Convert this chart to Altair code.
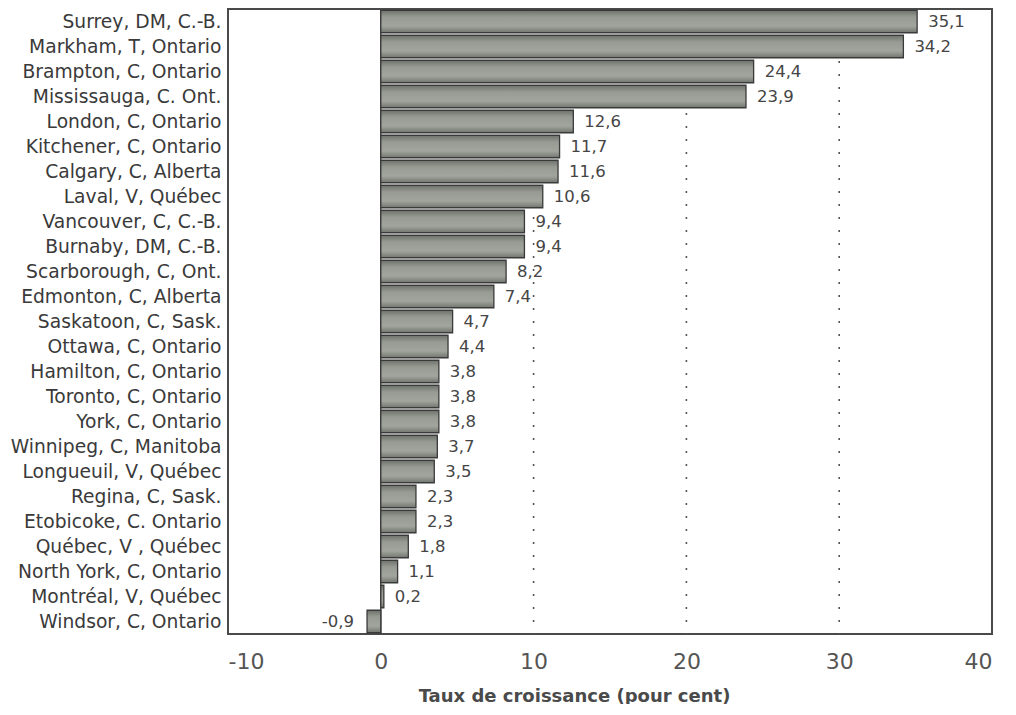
import altair as alt
import pandas as pd

cities = [
    "Surrey, DM, C.-B.", "Markham, T, Ontario", "Brampton, C, Ontario",
    "Mississauga, C. Ont.", "London, C, Ontario", "Kitchener, C, Ontario",
    "Calgary, C, Alberta", "Laval, V, Québec", "Vancouver, C, C.-B.",
    "Burnaby, DM, C.-B.", "Scarborough, C, Ont.", "Edmonton, C, Alberta",
    "Saskatoon, C, Sask.", "Ottawa, C, Ontario", "Hamilton, C, Ontario",
    "Toronto, C, Ontario", "York, C, Ontario", "Winnipeg, C, Manitoba",
    "Longueuil, V, Québec", "Regina, C, Sask.", "Etobicoke, C. Ontario",
    "Québec, V , Québec", "North York, C, Ontario", "Montréal, V, Québec",
    "Windsor, C, Ontario",
]
values = [35.1, 34.2, 24.4, 23.9, 12.6, 11.7, 11.6, 10.6, 9.4, 9.4, 8.2, 7.4,
          4.7, 4.4, 3.8, 3.8, 3.8, 3.7, 3.5, 2.3, 2.3, 1.8, 1.1, 0.2, -0.9]
grid_values = [10, 20, 30]
x_ticks = [-10, 0, 10, 20, 30, 40]

df = pd.DataFrame({"city": cities, "value": values})
df["label"] = [f"{v:.1f}".replace(".", ",") for v in values]
grid_df = pd.DataFrame({"g": grid_values})
zero_df = pd.DataFrame({"z": [0]})

xscale = alt.Scale(domain=[-10, 40], nice=False, zero=False)
yscale = alt.Scale(paddingInner=0.1, paddingOuter=0.05)

x_axis = alt.Axis(
    values=x_ticks, grid=False, ticks=False, tickSize=0, domain=False,
    labelExpr="'' + datum.value",
    labelFont="DejaVu Sans", labelFontSize=22, labelColor="#555555",
    labelPadding=27, labelBaseline="middle",
    title="Taux de croissance (pour cent)", titleFont="DejaVu Sans",
    titleFontSize=18, titleFontWeight="bold", titleColor="#4a4a4a",
    titleAnchor="start", titleAlign="center", titleX=346, titleY=62,
    titleBaseline="middle",
)
y_axis = alt.Axis(
    title=None, ticks=False, domain=False, labelPadding=7,
    labelFont="DejaVu Sans", labelFontSize=18.7, labelColor="#3a3a3a",
    labelLimit=400,
)

bar_fill = alt.Gradient(
    gradient="linear", x1=0, x2=0, y1=0, y2=1,
    stops=[
        alt.GradientStop(color="#6c716a", offset=0),
        alt.GradientStop(color="#979b93", offset=0.3),
        alt.GradientStop(color="#a2a59d", offset=0.7),
        alt.GradientStop(color="#70756e", offset=1),
    ],
)

base = alt.Chart(df)

grid = alt.Chart(grid_df).mark_rule(
    color="#555555", strokeWidth=1.6, strokeDash=[2, 11]
).encode(x=alt.X("g:Q", scale=xscale, axis=x_axis))

zero = alt.Chart(zero_df).mark_rule(color="#444444", strokeWidth=1.5).encode(
    x=alt.X("z:Q", scale=xscale)
)

bars = base.mark_bar(fill=bar_fill, stroke="#3a3a3a", strokeWidth=1.3).encode(
    x=alt.X("value:Q", scale=xscale, axis=x_axis),
    x2=alt.datum(0),
    y=alt.Y("city:N", sort=cities, scale=yscale, axis=y_axis),
)

pos_labels = base.transform_filter(alt.datum.value >= 0).mark_text(
    align="left", baseline="middle", dx=11, font="DejaVu Sans",
    fontSize=16.5, color="#454545",
).encode(
    x=alt.X("value:Q", scale=xscale),
    y=alt.Y("city:N", sort=cities, scale=yscale),
    text="label:N",
)

neg_labels = base.transform_filter(alt.datum.value < 0).mark_text(
    align="right", baseline="middle", dx=-13, font="DejaVu Sans",
    fontSize=16.5, color="#454545",
).encode(
    x=alt.X("value:Q", scale=xscale),
    y=alt.Y("city:N", sort=cities, scale=yscale),
    text="label:N",
)

chart = alt.layer(grid, zero, bars, pos_labels, neg_labels).properties(
    width=764, height=625,
    autosize=alt.AutoSizeParams(type="none"),
    padding={"left": 220, "top": 1, "right": 16, "bottom": 70},
    background="white",
).configure_view(stroke="#4a4a4a", strokeWidth=2)

chart.save("out.html", embed_options={"renderer": "svg", "actions": False})
